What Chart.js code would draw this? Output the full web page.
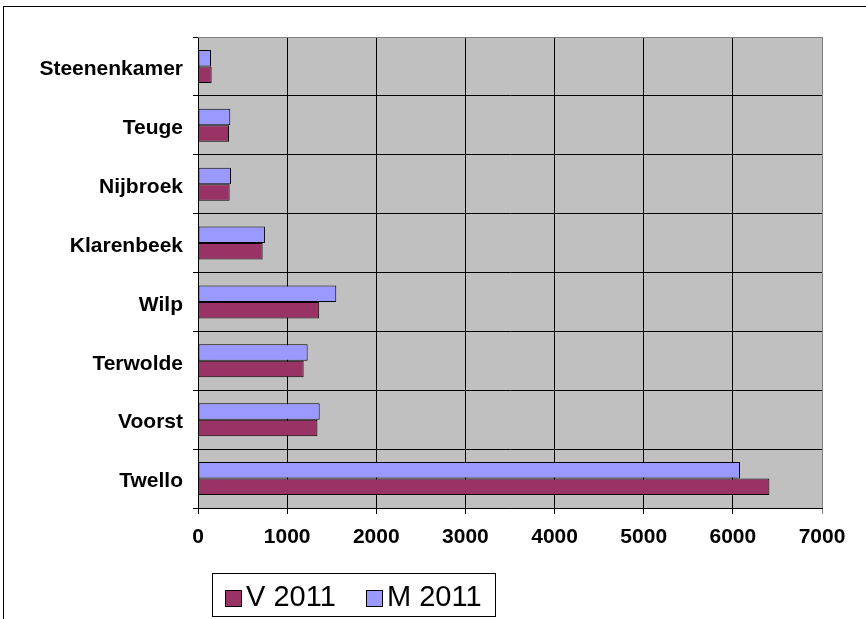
<!DOCTYPE html>
<html>
<head>
<meta charset="utf-8">
<script src="https://cdn.jsdelivr.net/npm/chart.js@4/dist/chart.umd.min.js"></script>
<style>
  html, body { margin: 0; padding: 0; background: #fff; overflow: hidden; }
  #chart { position: absolute; left: 0; top: 0; }
</style>
</head>
<body>
<canvas id="chart" width="866" height="619"></canvas>
<script>
// ── DATA ────────────────────────────────────────
const categories = ['Steenenkamer','Teuge','Nijbroek','Klarenbeek','Wilp','Terwolde','Voorst','Twello'];
const v2011 = [153, 348, 355, 725, 1360, 1185, 1340, 6410];
const m2011 = [146, 362, 370, 751, 1551, 1230, 1365, 6080];
const xMin = 0, xMax = 7000, xStep = 1000;

const FONT = "'Liberation Sans', Arial, sans-serif";

// ── FRAME + PLOT BG ─────────────────────────────
const framePlugin = {
  id: 'frame',
  beforeDraw(chart) {
    const { ctx, chartArea: a } = chart;
    ctx.save();
    ctx.fillStyle = '#fff';
    ctx.fillRect(0, 0, chart.width, chart.height);
    ctx.strokeStyle = '#000';
    ctx.lineWidth = 1;
    ctx.strokeRect(3.5, 6.5, 1000, 1000);
    ctx.fillStyle = '#c0c0c0';
    ctx.fillRect(a.left, a.top, a.right - a.left, a.bottom - a.top);
    ctx.restore();
  },
  afterDatasetsDraw(chart) {
    const { ctx, chartArea: a } = chart;
    ctx.save();
    ctx.strokeStyle = '#808080';
    ctx.lineWidth = 1;
    ctx.beginPath();
    ctx.moveTo(a.left, a.top + 0.5);
    ctx.lineTo(a.right + 0.5, a.top + 0.5);
    ctx.lineTo(a.right + 0.5, a.bottom);
    ctx.stroke();
    ctx.restore();
  }
};

// ── LEGEND (boxed, Excel style) ─────────────────
const legendPlugin = {
  id: 'boxLegend',
  afterDraw(chart) {
    const { ctx } = chart;
    const order = [1, 0]; // V 2011 first, M 2011 second
    const itemX = [225, 366];
    ctx.save();
    ctx.strokeStyle = '#000';
    ctx.lineWidth = 1;
    ctx.strokeRect(212.5, 573.5, 283, 43);
    ctx.font = '29px ' + FONT;
    ctx.textBaseline = 'alphabetic';
    order.forEach((di, i) => {
      const ds = chart.data.datasets[di];
      const x = itemX[i];
      ctx.fillStyle = ds.backgroundColor;
      ctx.fillRect(x, 590, 16, 16);
      ctx.strokeRect(x + 0.5, 590.5, 16, 16);
      ctx.fillStyle = '#000';
      ctx.fillText(ds.label, x + 21, 606);
    });
    ctx.restore();
  }
};

new Chart(document.getElementById('chart'), {
  type: 'bar',
  data: {
    labels: categories,
    datasets: [
      {
        label: 'M 2011',
        data: m2011,
        backgroundColor: '#9999ff',
        borderColor: '#000',
        borderWidth: 1,
        borderSkipped: false
      },
      {
        label: 'V 2011',
        data: v2011,
        backgroundColor: '#993366',
        borderColor: '#000',
        borderWidth: 1,
        borderSkipped: false
      }
    ]
  },
  options: {
    indexAxis: 'y',
    responsive: false,
    animation: false,
    devicePixelRatio: 1,
    categoryPercentage: 0.56,
    barPercentage: 1,
    layout: { padding: { left: 0, top: 37, right: 44, bottom: 0 } },
    plugins: {
      legend: { display: false },
      tooltip: { enabled: false },
      title: { display: false }
    },
    scales: {
      x: {
        min: xMin,
        max: xMax,
        afterFit: s => { s.height = 111; },
        ticks: {
          stepSize: xStep,
          color: '#000',
          padding: 11,
          callback: v => String(v),
          font: { family: FONT, size: 21, weight: 'bold' }
        },
        grid: {
          color: c => (c.tick && c.tick.value === xMax) ? '#808080' : '#000',
          lineWidth: 1,
          tickLength: 6
        },
        border: { color: '#000', width: 1 }
      },
      y: {
        afterFit: s => { s.width = 198; },
        ticks: {
          color: '#000',
          padding: 10,
          labelOffset: 3,
          font: { family: FONT, size: 21, weight: 'bold' }
        },
        grid: {
          offset: true,
          color: '#000',
          lineWidth: 1,
          tickLength: 5
        },
        border: { color: '#000', width: 1 }
      }
    }
  },
  plugins: [framePlugin, legendPlugin]
});
</script>
</body>
</html>
